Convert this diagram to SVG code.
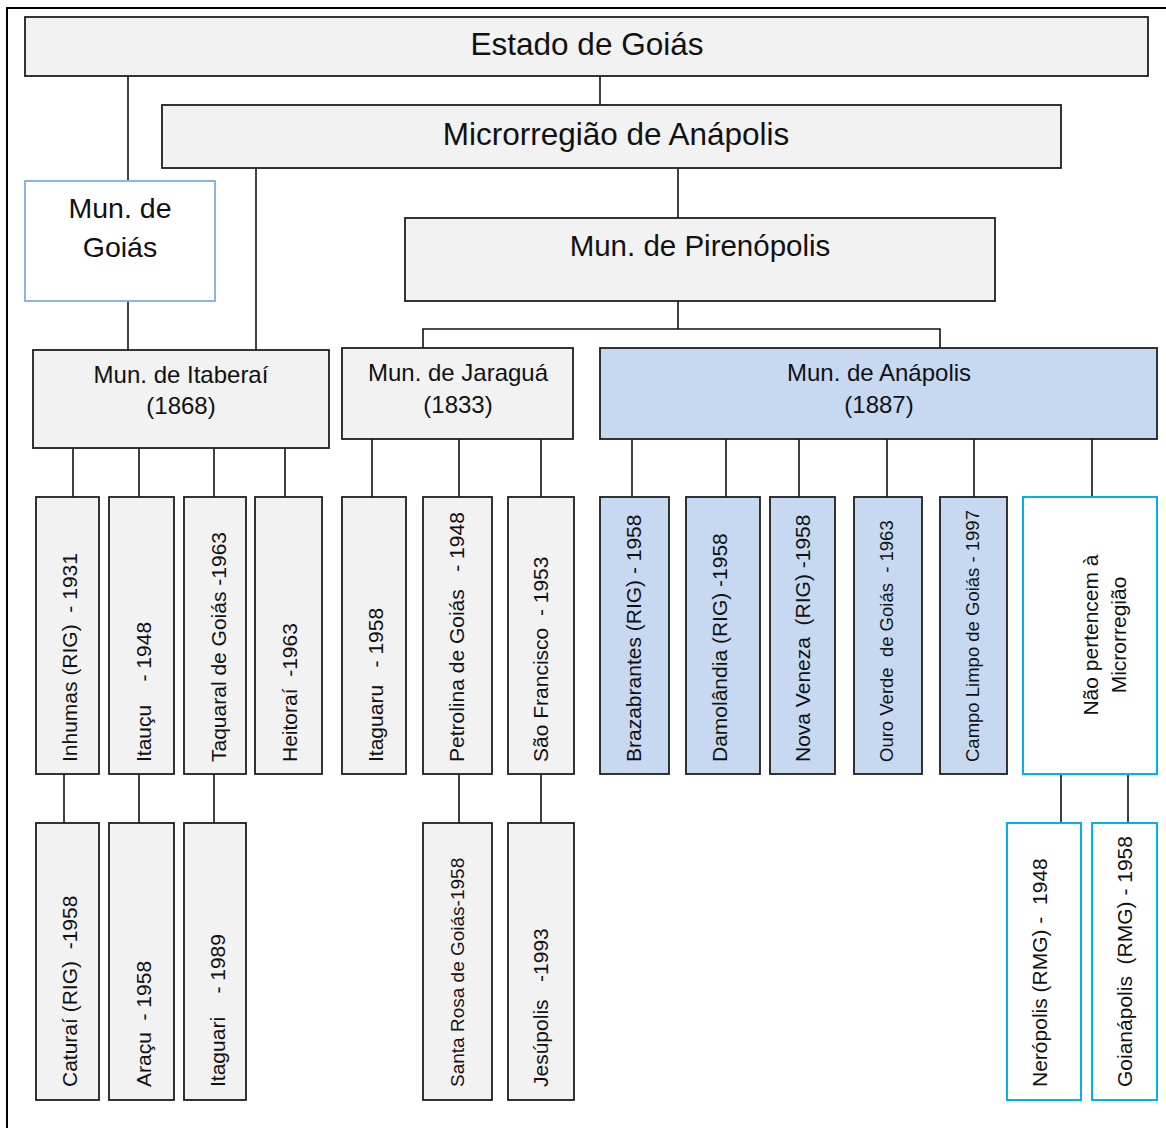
<svg xmlns="http://www.w3.org/2000/svg" width="1166" height="1128" viewBox="0 0 1166 1128">
<style>
text{font-family:"Liberation Sans",Arial,Helvetica,sans-serif;fill:#111;white-space:pre}
.g{fill:#f2f2f2;stroke:#1e1e1e;stroke-width:1.8}
.b{fill:#c6d9f1;stroke:#1e1e1e;stroke-width:1.8}
.lb{fill:#fff;stroke:#8db3e2;stroke-width:2}
.cy{fill:#fff;stroke:#00b0f0;stroke-width:2}
.c line,.c path{stroke:#111;stroke-width:1.6;fill:none}
.t1{font-size:31.5px;text-anchor:middle}
.t2{font-size:29.5px;text-anchor:middle}
.t3{font-size:24px;text-anchor:middle}
.v{font-size:21px}
.vs{font-size:18.5px}
.m{text-anchor:middle}
</style>
<rect width="1166" height="1128" fill="#fff"/>
<!-- page frame -->
<path d="M7,1128 V8 H1166" fill="none" stroke="#000" stroke-width="2"/>

<!-- connectors -->
<g class="c" id="connectors">
<line x1="128" y1="76" x2="128" y2="181"/>
<line x1="600" y1="76" x2="600" y2="105"/>
<line x1="128" y1="301" x2="128" y2="350"/>
<line x1="256" y1="168" x2="256" y2="350"/>
<line x1="678" y1="168" x2="678" y2="218"/>
<line x1="678" y1="301" x2="678" y2="329"/>
<path d="M423,348 V329 H940 V348"/>
<!-- Itaberaí children -->
<line x1="73" y1="438" x2="73" y2="497"/>
<line x1="139" y1="438" x2="139" y2="497"/>
<line x1="214" y1="438" x2="214" y2="497"/>
<line x1="285" y1="438" x2="285" y2="497"/>
<!-- Jaraguá children -->
<line x1="372" y1="439" x2="372" y2="497"/>
<line x1="459" y1="439" x2="459" y2="497"/>
<line x1="541" y1="439" x2="541" y2="497"/>
<!-- Anápolis children -->
<line x1="632" y1="439" x2="632" y2="497"/>
<line x1="726" y1="439" x2="726" y2="497"/>
<line x1="799" y1="439" x2="799" y2="497"/>
<line x1="887" y1="439" x2="887" y2="497"/>
<line x1="974" y1="439" x2="974" y2="497"/>
<line x1="1092" y1="439" x2="1092" y2="497"/>
<!-- second row -->
<line x1="64" y1="774" x2="64" y2="823"/>
<line x1="139" y1="774" x2="139" y2="823"/>
<line x1="214" y1="774" x2="214" y2="823"/>
<line x1="459" y1="774" x2="459" y2="823"/>
<line x1="541" y1="774" x2="541" y2="823"/>
<line x1="1061" y1="774" x2="1061" y2="823"/>
<line x1="1128" y1="774" x2="1128" y2="823"/>
</g>

<!-- top levels -->
<g id="estado"><rect class="g" x="25" y="17" width="1123" height="59"/><text class="t1" x="587" y="55">Estado de Goiás</text></g>
<g id="microrregiao"><rect class="g" x="162" y="105" width="899" height="63"/><text class="t1" x="616" y="145">Microrregião de Anápolis</text></g>
<g id="mun-goias"><rect class="lb" x="25" y="181" width="190" height="120"/><text x="120" y="218" class="m" font-size="28.5">Mun. de</text><text x="120" y="257" class="m" font-size="28.5">Goiás</text></g>
<g id="pirenopolis"><rect class="g" x="405" y="218" width="590" height="83"/><text class="t2" x="700" y="256">Mun. de Pirenópolis</text></g>

<g id="itaberai"><rect class="g" x="33" y="350" width="296" height="98"/><text class="t3" x="181" y="383">Mun. de Itaberaí</text><text class="t3" x="181" y="414">(1868)</text></g>
<g id="jaragua"><rect class="g" x="342" y="348" width="231" height="91"/><text class="t3" x="458" y="381">Mun. de Jaraguá</text><text class="t3" x="458" y="413">(1833)</text></g>
<g id="anapolis"><rect class="b" x="600" y="348" width="557" height="91"/><text class="t3" x="879" y="381">Mun. de Anápolis</text><text class="t3" x="879" y="413">(1887)</text></g>

<!-- first row of municipalities -->
<g id="inhumas"><rect class="g" x="36" y="497" width="63" height="277"/><text class="v" transform="translate(76.5,762) rotate(-90)">Inhumas (RIG)  - 1931</text></g>
<g id="itaucu"><rect class="g" x="109" y="497" width="65" height="277"/><text class="v" transform="translate(150.5,762) rotate(-90)">Itauçu    - 1948</text></g>
<g id="taquaral"><rect class="g" x="184" y="497" width="62" height="277"/><text class="v" transform="translate(225.5,762) rotate(-90)">Taquaral de Goiás -1963</text></g>
<g id="heitorai"><rect class="g" x="255" y="497" width="67" height="277"/><text class="v" transform="translate(296.5,762) rotate(-90)">Heitoraí  -1963</text></g>
<g id="itaguaru"><rect class="g" x="342" y="497" width="64" height="277"/><text class="v" transform="translate(382.5,762) rotate(-90)">Itaguaru   - 1958</text></g>
<g id="petrolina"><rect class="g" x="423" y="497" width="69" height="277"/><text class="v" transform="translate(463.5,762) rotate(-90)">Petrolina de Goiás   - 1948</text></g>
<g id="sao-francisco"><rect class="g" x="508" y="497" width="66" height="277"/><text class="v" transform="translate(548,762) rotate(-90)">São Francisco  - 1953</text></g>
<g id="brazabrantes"><rect class="b" x="600" y="497" width="69" height="277"/><text class="v" transform="translate(641,762) rotate(-90)">Brazabrantes (RIG) - 1958</text></g>
<g id="damolandia"><rect class="b" x="686" y="497" width="74" height="277"/><text class="v" transform="translate(727,762) rotate(-90)">Damolândia (RIG) -1958</text></g>
<g id="nova-veneza"><rect class="b" x="770" y="497" width="65" height="277"/><text class="v" transform="translate(810,762) rotate(-90)">Nova Veneza  (RIG) -1958</text></g>
<g id="ouro-verde"><rect class="b" x="854" y="497" width="68" height="277"/><text class="vs" transform="translate(893,762) rotate(-90)">Ouro Verde  de Goiás  - 1963</text></g>
<g id="campo-limpo"><rect class="b" x="940" y="497" width="67" height="277"/><text class="vs" transform="translate(979,762) rotate(-90)">Campo Limpo de Goiás - 1997</text></g>
<g id="nao-pertencem"><rect class="cy" x="1023" y="497" width="134" height="277"/><text class="v m" transform="translate(1097.5,635) rotate(-90)">Não pertencem à</text><text class="v m" transform="translate(1125.5,635) rotate(-90)">Microrregião</text></g>

<!-- second row of municipalities -->
<g id="caturai"><rect class="g" x="36" y="823" width="63" height="277"/><text class="v" transform="translate(76.5,1087) rotate(-90)">Caturaí (RIG)  -1958</text></g>
<g id="aracu"><rect class="g" x="109" y="823" width="65" height="277"/><text class="v" transform="translate(150.5,1087) rotate(-90)">Araçu  - 1958</text></g>
<g id="itaguari"><rect class="g" x="184" y="823" width="62" height="277"/><text class="v" transform="translate(225,1087) rotate(-90)">Itaguari    - 1989</text></g>
<g id="santa-rosa"><rect class="g" x="423" y="823" width="69" height="277"/><text font-size="19" transform="translate(463.5,1087) rotate(-90)">Santa Rosa de Goiás-1958</text></g>
<g id="jesupolis"><rect class="g" x="508" y="823" width="66" height="277"/><text class="v" transform="translate(548,1087) rotate(-90)">Jesúpolis   -1993</text></g>
<g id="neropolis"><rect class="cy" x="1007" y="823" width="74" height="277"/><text class="v" transform="translate(1047,1087) rotate(-90)">Nerópolis (RMG) -  1948</text></g>
<g id="goianapolis"><rect class="cy" x="1092" y="823" width="65" height="277"/><text class="v" transform="translate(1132,1087) rotate(-90)">Goianápolis  (RMG) - 1958</text></g>
</svg>
